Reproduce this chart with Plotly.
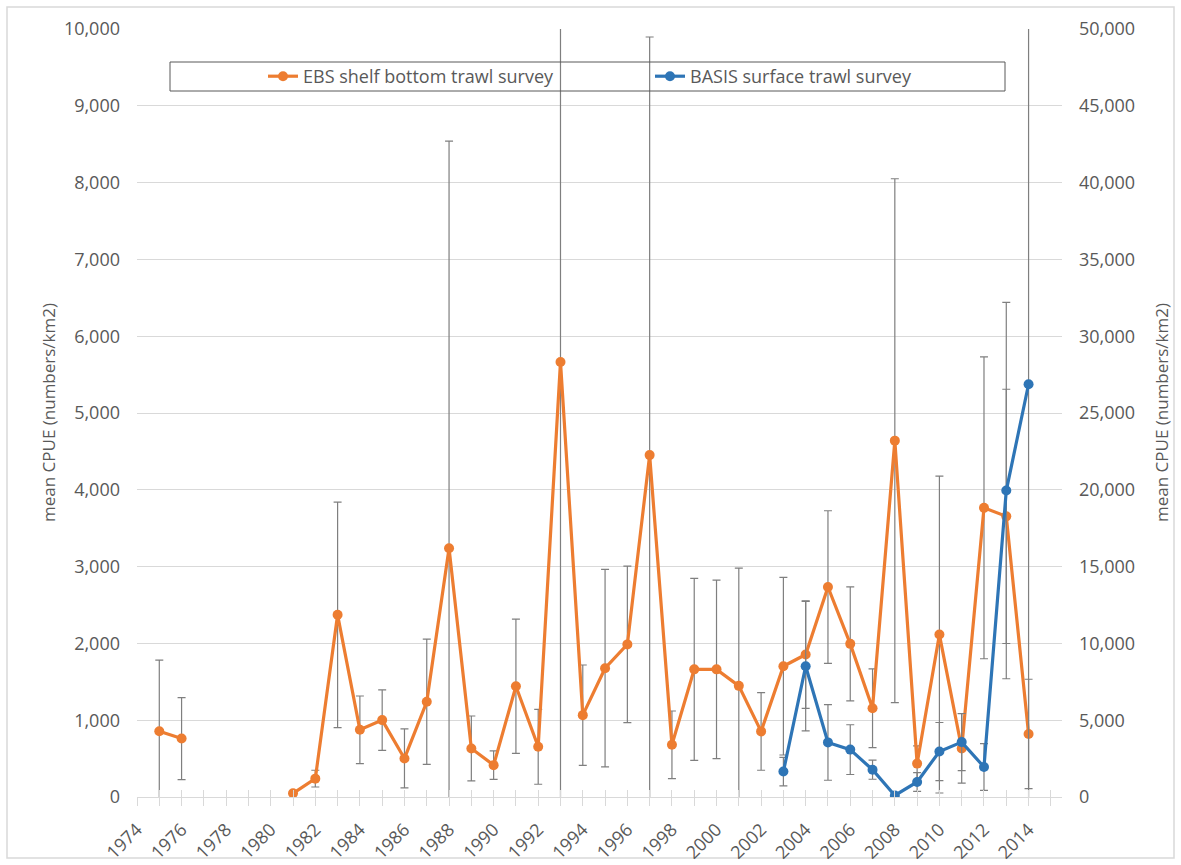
import plotly.graph_objects as go

# ---- data ----
ebs_years = list(range(1975, 2015))
ebs_cpue = [856, 761, None, None, None, None, 48, 239, 2372, 875, 1001, 502, 1240, 3240,
            632, 415, 1442, 654, 5665, 1066, 1677, 1987, 4452, 680, 1662, 1662, 1447, 854,
            1703, 1855, 2734, 1994, 1156, 4640, 435, 2115, 632, 3765, 3654, 821]
ebs_err = [925, 534, 0, 0, 0, 0, 30, 109, 1468, 440, 393, 384, 815, 5300,
           423, 185, 873, 488, 6000, 653, 1286, 1018, 5444, 440, 1184, 1162, 1533, 506,
           1156, 700, 993, 743, 512, 3410, 230, 2063, 452, 1965, 1655, 712]

basis_years = list(range(2003, 2015))
basis_cpue = [1655, 8515, 3555, 3085, 1775, 100, 980, 2960, 3575, 1955, 19950, 26870]
basis_err = [925, 4215, 2465, 1620, 620, 0, 610, 1890, 1860, 1525, 12250, 28000]

ebs_name = "EBS shelf bottom trawl survey"
basis_name = "BASIS surface trawl survey"
y_title = "mean CPUE (numbers/km2)"

ORANGE = "#ED7D31"
BLUE = "#2E75B6"
ERR = "#7F7F7F"
TXT = "#595959"
GRID = "#D9D9D9"
FONT = "Open Sans"
X_RANGE = [1974, 2015.5]

fig = go.Figure()
fig.add_trace(go.Scatter(
    x=ebs_years, y=ebs_cpue, name=ebs_name, mode="lines+markers",
    line=dict(color=ORANGE, width=3.2), marker=dict(color=ORANGE, size=10),
    error_y=dict(type="data", array=ebs_err, visible=True, color=ERR, thickness=1.2, width=4),
    connectgaps=False,
))
fig.add_trace(go.Scatter(
    x=basis_years, y=basis_cpue, name=basis_name, mode="lines+markers", yaxis="y2",
    line=dict(color=BLUE, width=3.2), marker=dict(color=BLUE, size=10),
    error_y=dict(type="data", array=basis_err, visible=True, color=ERR, thickness=1.2, width=4),
))
# helper trace so the overlay x-axis (inner half of the crossing tick marks) is drawn
fig.add_trace(go.Scatter(x=[None], y=[None], xaxis="x2", yaxis="y", showlegend=False,
                         hoverinfo="skip", mode="markers"))

L, R, T, B = 137, 119, 29, 68
W, H = 1181, 865
pw = W - L - R
ph = H - T - B

def px_x(px):
    return (px - L) / pw

def px_y(py):
    return (H - B - py) / ph

fig.update_layout(
    width=W, height=H,
    margin=dict(l=L, r=R, t=T, b=B, pad=0, autoexpand=False),
    paper_bgcolor="white", plot_bgcolor="white",
    font=dict(family=FONT, color=TXT, size=18),
    showlegend=True,
    legend=dict(orientation="h", x=px_x(263), y=px_y(76.5), xanchor="left", yanchor="middle",
                entrywidth=342, entrywidthmode="pixels", bgcolor="rgba(0,0,0,0)",
                borderwidth=0, font=dict(size=18, color=TXT, family=FONT),
                itemclick=False),
    xaxis=dict(range=X_RANGE, tickmode="linear", tick0=1974, dtick=2,
               tickangle=-45, showgrid=False, zeroline=False,
               showline=True, linecolor=GRID, linewidth=1,
               ticks="outside", ticklen=8, tickcolor=GRID, tickwidth=1,
               minor=dict(dtick=1, tick0=1974, ticks="outside", ticklen=8, tickcolor=GRID, tickwidth=1),
               tickfont=dict(size=18, color=TXT), ticklabelstandoff=6, fixedrange=True),
    xaxis2=dict(range=X_RANGE, overlaying="x", anchor="y", side="bottom",
                tickmode="linear", tick0=1974, dtick=1, showticklabels=False,
                showgrid=False, zeroline=False, showline=False,
                ticks="inside", ticklen=7, tickcolor=GRID, tickwidth=1, fixedrange=True),
    yaxis=dict(range=[0, 10000], tickmode="linear", tick0=0, dtick=1000, tickformat=",d",
               showgrid=True, gridcolor=GRID, gridwidth=1, zeroline=False, showline=False,
               ticks="", tickfont=dict(size=18, color=TXT), ticklabelstandoff=16, fixedrange=True),
    yaxis2=dict(range=[0, 50000], tickmode="linear", tick0=0, dtick=5000, tickformat=",d",
                overlaying="y", side="right", showgrid=False, zeroline=False, showline=False,
                ticks="", tickfont=dict(size=18, color=TXT), ticklabelstandoff=16, fixedrange=True),
    shapes=[
        dict(type="rect", xref="paper", yref="paper",
             x0=px_x(170), x1=px_x(1005), y0=px_y(91), y1=px_y(62),
             line=dict(color="#595959", width=1), fillcolor="rgba(0,0,0,0)", layer="above"),
        dict(type="rect", xref="paper", yref="paper",
             x0=px_x(7), x1=px_x(1174), y0=px_y(858), y1=px_y(7),
             line=dict(color=GRID, width=1.5), fillcolor="rgba(0,0,0,0)", layer="below"),
    ],
    annotations=[
        dict(text=y_title, xref="paper", yref="paper", x=px_x(48), y=0.5, textangle=-90,
             showarrow=False, xanchor="center", yanchor="middle", font=dict(size=17, color=TXT)),
        dict(text=y_title, xref="paper", yref="paper", x=px_x(1161), y=0.5, textangle=-90,
             showarrow=False, xanchor="center", yanchor="middle", font=dict(size=17, color=TXT)),
    ],
)

fig.write_html("out.html", config={"displayModeBar": False},
               post_script="document.body.style.margin='0';document.body.style.overflow='hidden';")
